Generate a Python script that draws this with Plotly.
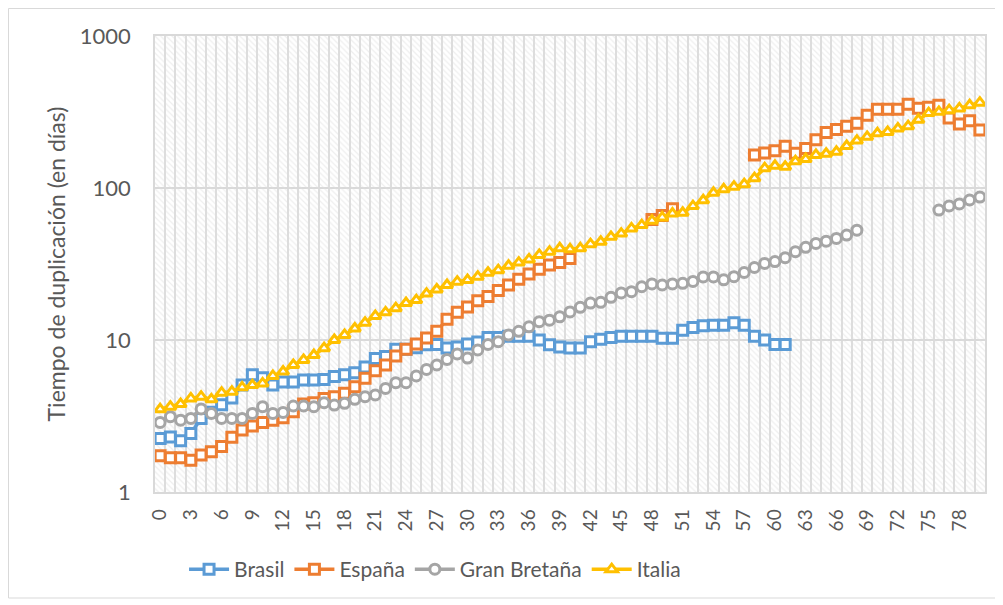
import plotly.graph_objects as go

dias = list(range(81))

brasil = [2.25, 2.3, 2.17, 2.43, 3.05, 3.35, 3.75, 4.15, 5.05, 5.9,
          5.65, 5.05, 5.3, 5.3, 5.45, 5.45, 5.5, 5.75, 5.9, 6.1,
          6.65, 7.55, 7.8, 8.7, 8.7, 8.9, 9.3, 9.35, 8.85, 9.0,
          9.4, 9.7, 10.4, 10.4, 10.6, 10.6, 10.6, 10.0, 9.3, 9.0,
          8.85, 8.85, 9.75, 10.1, 10.4, 10.6, 10.6, 10.6, 10.6, 10.25,
          10.25, 11.6, 12.1, 12.4, 12.5, 12.5, 13.0, 12.5, 10.6, 10.0,
          9.35, 9.35] + [None] * 19

espana = [1.73, 1.68, 1.68, 1.62, 1.75, 1.84, 1.99, 2.29, 2.56, 2.72,
          2.87, 2.97, 3.08, 3.37, 3.79, 3.87, 4.13, 4.24, 4.46, 4.93,
          5.6, 6.27, 6.85, 7.84, 8.7, 9.4, 10.3, 11.4, 13.7, 15.2,
          16.5, 18.1, 19.3, 21.2, 23.0, 25.1, 27.2, 29.2, 31.1, 32.3,
          34.4, None, None, None, None, None, None, None, 62, 66,
          73, None, None, None, None, None, None, None, 165, 170,
          176, 188, 169, 182, 208, 232, 243, 255, 267, 301,
          330, 330, 330, 355, 335, 340, 350, 289, 264, 277,
          241]

gran_bretana = [2.87, 3.13, 2.97, 3.05, 3.52, 3.29, 3.05, 3.05, 3.05, 3.29,
                3.64, 3.29, 3.34, 3.68, 3.68, 3.64, 3.87, 3.73, 3.83, 4.07,
                4.24, 4.35, 4.8, 5.24, 5.24, 5.8, 6.4, 6.85, 7.45, 8.1,
                7.6, 8.6, 9.35, 9.75, 10.8, 11.4, 12.2, 13.2, 13.5, 14.2,
                15.3, 16.4, 17.5, 17.7, 19.1, 20.4, 20.8, 22.4, 23.4, 23.0,
                23.4, 23.6, 24.3, 26.0, 26.0, 24.9, 26.1, 27.8, 30.0, 31.9,
                32.8, 34.8, 38.1, 40.7, 43.2, 44.7, 46.6, 49.0, 52.8, None,
                None, None, None, None, None, None, 71.6, 76.2, 78.6, 83.4,
                87.2]

italia = [3.5, 3.64, 3.79, 4.13, 4.24, 4.07, 4.5, 4.57, 4.88, 5.05,
          5.18, 5.8, 6.2, 6.85, 7.4, 7.96, 8.84, 10.0, 10.8, 11.9,
          13.0, 14.4, 15.2, 16.2, 17.5, 18.3, 20.2, 21.5, 23.0, 24.2,
          24.8, 26.1, 27.7, 28.8, 30.8, 32.3, 33.9, 36.3, 38.1, 40.1,
          39.5, 40.1, 42.7, 44.3, 47.7, 50.1, 54.2, 57, 61, 64,
          67.9, 68.7, 76, 83, 93, 98, 102, 106, 116, 135,
          140, 138, 150, 155, 165, 168, 173, 189, 205, 217,
          229, 234, 246, 255, 281, 311, 317, 325, 334, 350,
          364]

series = [
    ("Brasil", brasil, "#5B9BD5", "square"),
    ("España", espana, "#ED7D31", "square"),
    ("Gran Bretaña", gran_bretana, "#A5A5A5", "circle"),
    ("Italia", italia, "#FFC000", "triangle-up"),
]

fig = go.Figure()

# fondo rayado del area de trazado
fig.add_trace(go.Bar(x=[40], y=[999], base=[1], width=[81],
                     marker=dict(color="rgba(0,0,0,0)", line=dict(width=0),
                                 pattern=dict(shape="\\", fgcolor="#DEDEDE",
                                              bgcolor="rgba(0,0,0,0)",
                                              size=4, solidity=0.3)),
                     showlegend=False, hoverinfo="skip"))

for nombre, valores, color, simbolo in series:
    fig.add_trace(go.Scatter(
        x=dias, y=valores, name=nombre, mode="lines+markers",
        line=dict(color=color, width=3.5),
        marker=dict(symbol=simbolo, size=10, color="white",
                    line=dict(color=color, width=3)),
    ))

fig.update_layout(
    width=1003, height=605,
    margin=dict(l=147, r=26, t=28, b=121),
    paper_bgcolor="white", plot_bgcolor="white",
    font=dict(family="Lato, Open Sans, sans-serif", color="#595959"),
    showlegend=True,
    legend=dict(orientation="h", x=0.035, y=-0.17, xanchor="left", yanchor="middle",
                font=dict(size=21, color="#595959"), traceorder="normal",
                itemwidth=40),
    bargap=0,
    # borde del grafico
    shapes=[dict(type="rect", xref="paper", yref="paper",
                 x0=-146.5 / 830, x1=841 / 830, y0=-106 / 456, y1=483.5 / 456,
                 line=dict(color="#D9D9D9", width=1), layer="below")],
)

fig.update_xaxes(
    range=[-0.5, 80.5], tickmode="linear", tick0=0, dtick=3,
    tickangle=-90, tickfont=dict(size=19), showgrid=False,
    minor=dict(tick0=0.5, dtick=1, showgrid=True, gridcolor="#DDDDDD", gridwidth=1.5),
    showline=True, linecolor="#D9D9D9", linewidth=1.5, mirror=True,
    ticks="", zeroline=False, ticklabelstandoff=8,
)

fig.update_yaxes(
    type="log", range=[0, 3], tickvals=[1, 10, 100, 1000],
    ticktext=["1", "10", "100", "1000"], tickfont=dict(size=22),
    showgrid=True, gridcolor="#D9D9D9", gridwidth=1.5,
    showline=True, linecolor="#D9D9D9", linewidth=1.5, mirror=True,
    ticks="", ticklen=0, zeroline=False, ticklabelstandoff=18,
    title=dict(text="Tiempo de duplicación (en días)", font=dict(size=23), standoff=8),
)

fig.write_html("out.html")
